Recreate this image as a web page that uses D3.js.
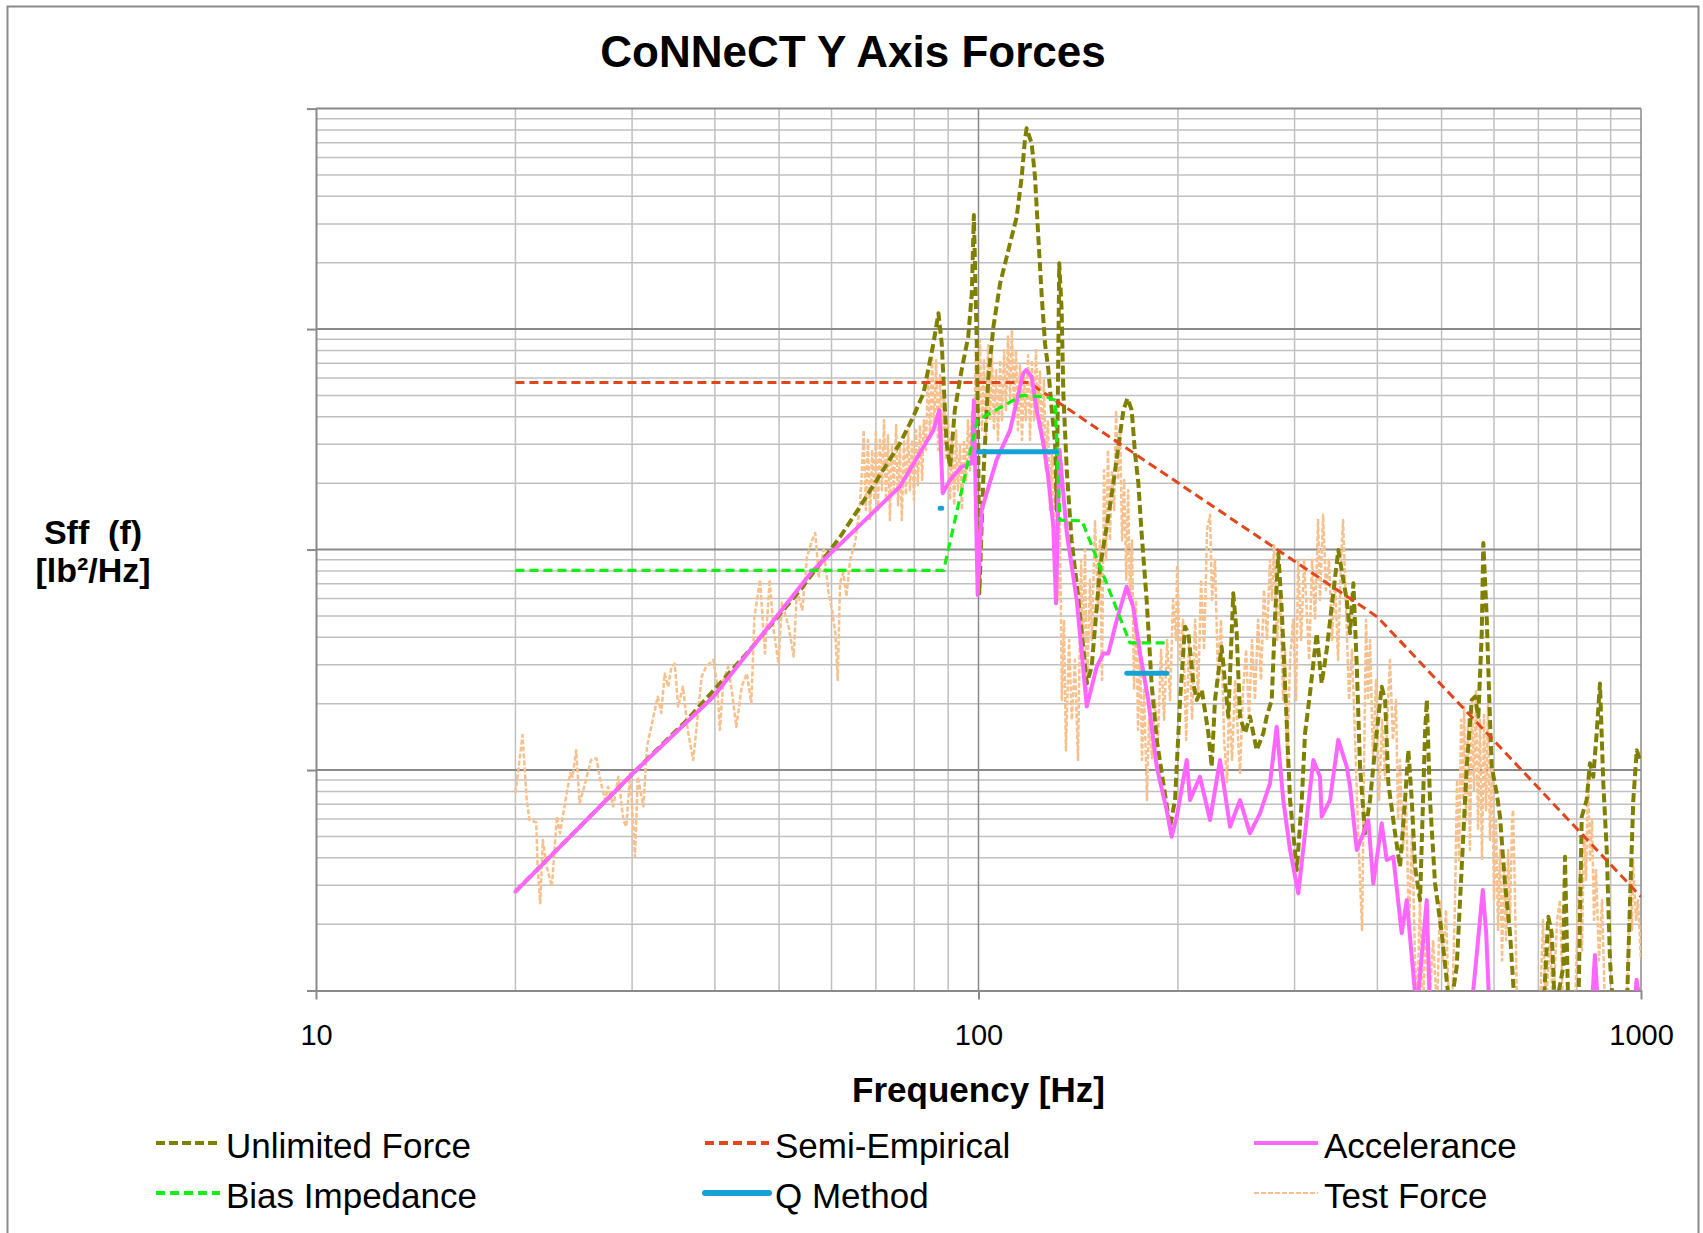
<!DOCTYPE html>
<html><head><meta charset="utf-8">
<script src="https://cdn.jsdelivr.net/npm/d3@7"></script>
<style>
body{margin:0;background:#fff}
svg{display:block}
text{font-family:"Liberation Sans", Arial, sans-serif}
</style>
</head><body>
<svg id="chart" width="1703" height="1233"></svg>
<script>
// ---------------- DATA (frequency Hz, Sff lb^2/Hz) ----------------
const xTickValues = [10, 100, 1000];
const xTickLabels = ["10", "100", "1000"];
const yTickValues = [0.01, 0.1, 1, 10, 100];

const seriesNames = ["Unlimited Force", "Semi-Empirical", "Accelerance", "Bias Impedance", "Q Method", "Test Force"];

const semiEmpirical = [[20,5.73],[119,5.73],[400,0.495],[1000,0.0266]];

const biasImpedance = [[20,0.805],[88.6,0.805],[99.6,3.86],[107.8,4.40],[116.2,5.0],[126.7,4.93],[130.5,4.76],[132.7,1.36],[143.3,1.35],[169.3,0.377],[193,0.377]];

const qMethod = [[87.5,1.54],[88.0,1.54],[94,null],[100,2.78],[131.2,2.78],[150,null],[167.4,0.275],[192.3,0.275]];

const unlimitedForce = [[20,0.0281],[25.6,0.0593],[30.1,0.0967],[36.3,0.1685],[44.7,0.338],[53.8,0.655],[61.8,1.14],[66.2,1.56],[76.1,3.03],[79.7,4.00],[82.6,5.11],[85.5,8.61],[87.0,11.8],[88.0,8.61],[88.5,6.08],[89.5,3.03],[90.6,2.37],[92.1,4.29],[94.3,6.52],[96.5,9.23],[97.7,14.5],[98.4,32.9],[99.4,8.61],[99.9,3.03],[100.3,0.633],[101.7,2.14],[103.5,6.08],[105.3,10.2],[107.8,16.1],[111.6,24.5],[114.2,32.3],[116.2,49.0],[117.5,71.9],[118.2,81.4],[120.3,69.5],[121.7,49.0],[123.1,26.2],[124.6,14.0],[126.0,8.61],[127.5,6.52],[129.0,4.29],[130.5,3.03],[131.2,1.51],[132.4,19.9],[133.5,12.2],[134.3,5.11],[135.9,2.29],[138.2,1.10],[140.7,0.703],[143.2,0.417],[145.7,0.247],[148.2,0.294],[152.6,0.835],[157.0,1.41],[159.8,2.00],[163.6,3.36],[165.5,4.29],[167.8,4.85],[170.3,4.29],[172.3,2.73],[174.3,2.00],[176.3,1.18],[179.4,0.590],[182.5,0.247],[185.8,0.137],[190.1,0.0870],[194.6,0.0553],[198.0,0.0731],[201.5,0.208],[205.0,0.447],[207.4,0.417],[211.0,0.247],[213.5,0.208],[217.3,0.231],[222.3,0.147],[224.9,0.1035],[227.5,0.208],[232.8,0.362],[238.3,0.1745],[242.4,0.633],[245.3,0.417],[248.2,0.1745],[252.5,0.147],[256.9,0.1745],[263.0,0.123],[269.1,0.147],[272.3,0.1745],[277.1,0.208],[280.3,0.496],[283.5,0.961],[286.9,0.532],[290.2,0.247],[295.3,0.0731],[302.3,0.0352],[307.6,0.0731],[311.1,0.147],[316.5,0.223],[324.0,0.417],[329.6,0.247],[335.4,0.350],[343.1,0.633],[349.2,0.995],[359.6,0.590],[363.8,0.417],[368.0,0.703],[372.4,0.294],[376.6,0.1035],[383.2,0.0516],[389.9,0.0731],[399.0,0.147],[406.1,0.2385],[410.9,0.208],[415.6,0.0870],[425.4,0.0516],[432.8,0.0364],[440.4,0.0731],[445.5,0.123],[450.8,0.0731],[456.0,0.0364],[464.0,0.0257],[472.1,0.147],[475.0,0.208],[480.3,0.0731],[488.8,0.0306],[500.3,0.0182],[514.9,0.008],[527.0,0.0128],[536.3,0.0364],[545.7,0.1035],[555.3,0.208],[561.7,0.215],[568.2,0.1745],[574.9,0.417],[578.1,1.07],[584.9,0.496],[590.2,0.208],[595.2,0.1035],[605.6,0.0784],[612.6,0.0614],[623.3,0.0306],[634.3,0.0182],[645.4,0.008],[712.2,0.008],[724.6,0.0216],[733.2,0.0182],[741.7,0.008],[763.3,0.0128],[767.9,0.0404],[776.8,0.008],[804.3,0.008],[813.8,0.0614],[827.9,0.0731],[837.5,0.1073],[847.2,0.0932],[857.2,0.147],[867.1,0.247],[877.2,0.0870],[887.7,0.0434],[897.8,0.0137],[908.2,0.008],[951.7,0.008],[962.6,0.0257],[973.6,0.0731],[985.4,0.123],[996.6,0.111],[1000,0.111]];

const accelerance = [[20,0.0281],[30.1,0.0967],[39.8,0.215],[56.3,0.807],[76.1,1.93],[85.5,3.48],[87.3,4.29],[88.3,1.80],[90.6,2.07],[94.3,2.37],[97.7,2.46],[98.4,4.76],[99.7,0.622],[101.1,1.51],[106.5,2.55],[111.6,3.48],[116.8,6.30],[118,6.52],[120.3,6.08],[122.4,4.29],[125.3,3.03],[127.4,2.14],[129.7,1.27],[130.9,0.570],[132.5,2.83],[135.9,1.19],[140.7,0.590],[145.7,0.194],[150.8,0.294],[154.3,0.338],[157.0,0.338],[161.7,0.479],[167.3,0.678],[171.2,0.550],[175.3,0.338],[180.4,0.208],[185.8,0.1035],[192.3,0.0658],[195.7,0.0498],[199.2,0.0614],[206.2,0.111],[208.6,0.0731],[215.9,0.0932],[223.6,0.0593],[231.5,0.111],[239.7,0.0553],[248.2,0.0731],[256.9,0.0516],[266.0,0.0636],[275.4,0.0870],[281.9,0.157],[288.4,0.0731],[295.3,0.0434],[303.9,0.0276],[311.1,0.0516],[320.2,0.111],[327.7,0.0932],[329.6,0.0614],[339.3,0.0731],[349.2,0.137],[359.6,0.1035],[363.8,0.0840],[372.4,0.0434],[380.9,0.0516],[387.6,0.0593],[394.4,0.0306],[406.1,0.0573],[413.2,0.0391],[422.8,0.0404],[435.3,0.0182],[443.0,0.0257],[458.6,0.008],[474.9,0.0257],[480.3,0.008],[554.2,0.008],[563.9,0.0137],[577.0,0.0286],[583.9,0.0182],[590.6,0.008],[842,0.008],[852,0.0145],[862,0.008],[975,0.008],[985,0.0112],[1000,0.008]];

const testForce = [[20.0,0.0784],[20.5,0.144],[20.8,0.0731],[21.0,0.0593],[21.5,0.058],[21.6,0.0364],[21.8,0.0249],[22.0,0.0481],[22.3,0.0364],[22.7,0.0296],[23.1,0.0614],[23.35,0.0516],[23.8,0.0731],[24.2,0.0967],[24.4,0.0932],[24.7,0.123],[25.0,0.0707],[25.4,0.084],[26.0,0.111],[26.5,0.113],[26.8,0.0932],[27.3,0.0731],[27.6,0.084],[28.1,0.0684],[28.6,0.0932],[29.1,0.0593],[29.4,0.0553],[29.8,0.0967],[30.3,0.0404],[30.6,0.0932],[31.2,0.0684],[31.6,0.128],[32.3,0.1745],[32.8,0.215],[33.2,0.1815],[33.6,0.274],[34.0,0.239],[34.4,0.294],[34.8,0.304],[35.2,0.194],[35.8,0.239],[36.4,0.152],[37.1,0.111],[37.5,0.152],[38.2,0.265],[38.8,0.294],[39.8,0.316],[40.3,0.248],[40.7,0.152],[41.2,0.256],[41.9,0.294],[42.4,0.231],[43.1,0.157],[43.9,0.239],[44.7,0.274],[45.4,0.201],[45.9,0.497],[46.8,0.729],[47.6,0.338],[48.4,0.729],[49.0,0.445],[49.9,0.304],[50.5,0.574],[51.7,0.445],[52.6,0.327],[53.2,0.656],[54.2,0.533],[55.1,0.929],[56.1,1.104],[56.7,1.19],[57.4,0.755],[58.4,0.997],[59.4,0.633],[60.1,0.533],[60.8,0.417],[61.3,0.256],[61.8,0.703],[62.5,0.785],[63.2,0.613],[64.0,0.898],[65.1,1.07],[66.2,1.56],
[66.7,2.29],[67.1,3.48],[67.6,1.51],[68.1,3.14],[68.6,1.36],[69.1,2.83],[69.6,1.68],[70.0,3.48],[70.5,1.51],[71.0,3.14],[71.5,1.86],[72.0,3.86],[72.5,1.68],[73.0,3.3],[73.5,1.36],[74.0,2.98],[74.5,1.86],[75.1,3.67],[75.6,1.59],[76.1,2.98],[76.6,1.36],[77.2,3.14],[77.7,1.77],[78.3,3.48],[78.8,1.86],[79.4,3.14],[79.9,1.68],[80.5,3.48],[81.0,1.96],[81.6,3.67],[82.2,2.07],[82.7,3.86],[83.3,2.83],[83.9,6.51],[84.5,3.14],[85.1,7.6],[85.7,3.48],[86.3,7.23],[86.9,2.83],[87.5,6.18],[88.1,2.98],[88.7,5.29],[89.3,2.55],[90.0,3.86],[90.6,1.68],[91.2,3.14],[91.9,1.59],[92.5,3.48],[93.1,1.86],[93.8,2.98],[94.4,1.51],[95.1,3.14],[95.8,2.07],[96.4,3.86],[97.1,2.29],[97.8,4.29],[98.5,3.14],[99.1,8.02],[99.8,3.86],[100.5,8.91],[101.2,3.48],[101.9,7.23],[102.6,3.14],[103.4,8.45],[104.1,3.86],[104.8,7.6],[105.5,3.48],[106.3,6.51],[107.0,3.14],[107.8,7.23],[108.5,3.86],[109.3,8.02],[110.0,4.29],[110.8,9.36],[111.6,4.76],[112.3,9.89],[113.1,4.29],[113.9,8.02],[114.7,3.48],[115.5,6.86],[116.3,3.14],[117.1,6.18],[117.9,3.86],[118.8,7.6],[119.6,3.14],[120.4,7.23],[121.3,3.86],[122.1,8.02],[123.0,4.29],[123.8,6.51],[124.7,2.98],[125.5,5.87],[126.4,2.29],[127.3,3.86],[128.2,1.51],[129.1,2.83],[130.0,0.898],[130.9,2.07],[131.8,0.591],[132.7,1.36],
[133.6,0.208],[134.6,0.480],[135.5,0.123],[137.0,0.389],[138.3,0.169],[139.8,0.316],[141.3,0.111],[142.8,0.898],[143.8,0.351],[144.8,0.997],[145.8,0.208],[147.3,0.729],[148.3,0.389],[149.9,1.36],[151.5,0.533],[152.5,1.10],[153.6,0.256],[154.7,2.29],[155.8,0.898],[156.8,2.83],[157.9,1.10],[159.0,2.29],[160.2,1.51],[161.3,4.29],[162.4,2.07],[163.6,3.48],[164.7,1.10],[165.9,2.07],[167.1,0.729],[168.2,1.86],[169.3,0.591],[170.5,1.10],[171.7,0.231],[172.9,0.591],[174.1,0.152],[175.3,0.389],[176.5,0.111],[177.8,0.231],[179.6,0.0731],[180.9,0.169],[182.8,0.113],[184.7,0.208],[186.6,0.137],[188.6,0.351],[190.6,0.169],[192.6,0.389],[194.6,0.208],[196.6,0.591],[198.7,0.389],[199.4,0.85],[201.5,0.316],[203.6,0.480],[205.8,0.137],[207.9,0.389],[210.1,0.169],[212.3,0.480],[214.5,0.208],[216.7,0.729],[219.0,0.351],[221.3,1.23],[223.6,1.44],[225.2,0.591],[227.5,0.898],[229.9,0.256],[232.3,0.480],[234.8,0.137],[237.3,0.088],[238.9,0.208],[241.4,0.111],[244.0,0.256],[246.5,0.137],[248.2,0.097],[250.8,0.231],[253.5,0.351],[256.0,0.169],[258.7,0.389],[261.4,0.208],[264.2,0.480],[266.9,0.256],[269.7,0.656],[272.6,0.389],[275.4,0.898],[277.4,0.591],[279.3,1.05],[282.3,0.389],[285.2,0.656],[288.2,0.208],[290.2,0.351],[292.3,0.104],[295.3,0.316],[298.4,0.480],[301.6,0.208],[303.7,0.898],[306.9,0.389],[310.1,0.898],[312.3,0.591],[315.5,0.316],[318.8,0.898],[322.1,0.480],[325.5,1.36],[327.7,0.591],[331.2,1.44],[334.6,0.656],[338.1,0.898],[341.7,0.389],[345.3,0.729],[348.9,0.316],[352.6,0.898],[355.0,1.36],[358.8,0.533],[362.5,0.208],[366.3,0.351],[370.2,0.137],[374.1,0.0535],[376.6,0.0317],[379.3,0.0188],[382.0,0.111],[384.6,0.480],[387.3,0.208],[389.9,0.389],[394.0,0.111],[398.2,0.256],[402.4,0.0731],[406.6,0.169],[410.9,0.0901],[415.2,0.208],[417.9,0.316],[422.3,0.137],[426.8,0.208],[429.8,0.0593],
[432.7,0.111],[437.3,0.0434],[441.9,0.0731],[446.5,0.0188],[451.2,0.0535],[456.0,0.0137],[459.2,0.008],[463.8,0.0257],[468.7,0.008],[473.7,0.0209],[478.6,0.008],[485.4,0.0169],[492.2,0.008],[497.2,0.0257],[502.5,0.0137],[507.8,0.0232],[513.1,0.008],[518.5,0.008],
[524.0,0.0257],[527.6,0.0901],[531.3,0.0391],[535.1,0.169],[538.8,0.0731],[540.7,0.194],[544.5,0.0593],[548.3,0.169],[551.9,0.0434],[555.8,0.208],[559.7,0.0811],[563.6,0.231],[567.6,0.0535],[571.4,0.169],[575.4,0.0391],[579.5,0.178],[583.5,0.0658],[587.6,0.198],[591.6,0.0481],[595.8,0.111],[600.0,0.0257],[604.2,0.0593],[608.4,0.0188],[612.6,0.0434],[617.0,0.0137],[621.3,0.0352],[625.6,0.0169],[630.0,0.0434],[634.3,0.0209],[638.8,0.0593],[641.0,0.0658],[645.5,0.0257],[650.0,0.008],
[703.9,0.008],[711.3,0.0209],[718.7,0.008],[728.8,0.0182],[736.5,0.008],[746.9,0.0209],[754.6,0.0257],[762.6,0.008],[795.0,0.008],[803.3,0.0257],[808.9,0.0352],[814.6,0.0152],[820.3,0.0516],[826.1,0.0317],[831.9,0.097],[837.5,0.0391],[843.4,0.0593],[849.3,0.0209],[855.3,0.0352],[864.2,0.0137],[873.3,0.0257],[882.5,0.008],[951.6,0.008],[962.5,0.0317],[969.2,0.0188],[972.6,0.0391],[982.9,0.0209],[989.8,0.0257],[1000,0.0137]];

// ---------------- CHART ----------------
const plot = {left: 316, right: 1641, top: 108.6, bottom: 990.5};
const svg = d3.select("#chart");

const x = d3.scaleLog().domain([10, 1000]).range([plot.left, plot.right]);
const y = d3.scaleLog().domain([0.01, 100]).range([plot.bottom, plot.top]);

// outer border
svg.append("rect").attr("x", 7.5).attr("y", 6.5).attr("width", 1691).attr("height", 1300)
  .attr("fill", "#fff").attr("stroke", "#8a8a8a").attr("stroke-width", 2);

// grid
const minorX = [], majorX = [];
[10, 100].forEach(d => { for (let k = 2; k <= 9; k++) minorX.push(d * k); });
majorX.push(100, 1000);
const minorY = [], majorY = [];
[0.01, 0.1, 1, 10].forEach(d => { for (let k = 2; k <= 9; k++) minorY.push(d * k); });
majorY.push(0.1, 1, 10, 100);

const grid = svg.append("g");
grid.selectAll(".mx").data(minorX).join("line")
  .attr("x1", d => x(d)).attr("x2", d => x(d)).attr("y1", plot.top).attr("y2", plot.bottom)
  .attr("stroke", "#c0c0c0").attr("stroke-width", 1.5);
grid.selectAll(".my").data(minorY).join("line")
  .attr("y1", d => y(d)).attr("y2", d => y(d)).attr("x1", plot.left).attr("x2", plot.right)
  .attr("stroke", "#c0c0c0").attr("stroke-width", 1.5);
grid.selectAll(".Mx").data(majorX).join("line")
  .attr("x1", d => x(d)).attr("x2", d => x(d)).attr("y1", plot.top).attr("y2", plot.bottom)
  .attr("stroke", "#8a8a8a").attr("stroke-width", 1.5);
grid.selectAll(".My").data(majorY).join("line")
  .attr("y1", d => y(d)).attr("y2", d => y(d)).attr("x1", plot.left).attr("x2", plot.right)
  .attr("stroke", "#8a8a8a").attr("stroke-width", 2);

// axes
const xAxis = d3.axisBottom(x).tickValues(xTickValues).tickFormat((d, i) => xTickLabels[i])
  .tickSize(9).tickSizeOuter(0).tickPadding(25);
const gx = svg.append("g").attr("transform", `translate(0,${plot.bottom})`).call(xAxis);
const yAxis = d3.axisLeft(y).tickValues(yTickValues).tickFormat("").tickSize(9).tickSizeOuter(0);
const gy = svg.append("g").attr("transform", `translate(${plot.left},0)`).call(yAxis);
[gx, gy].forEach(g => {
  g.select(".domain").attr("stroke", "#8a8a8a").attr("stroke-width", 2);
  g.selectAll(".tick line").attr("stroke", "#8a8a8a").attr("stroke-width", 2);
  g.selectAll(".tick text").attr("fill", "#000").style("font-size", "29px")
    .style("font-family", '"Liberation Sans", Arial, sans-serif');
});

// clip
svg.append("clipPath").attr("id", "clip").append("rect")
  .attr("x", plot.left).attr("y", plot.top).attr("width", plot.right - plot.left).attr("height", plot.bottom - plot.top);

const styles = {
  "Unlimited Force": {data: unlimitedForce, color: "#808000", width: 4, dash: "9,4", cap: "butt"},
  "Semi-Empirical": {data: semiEmpirical, color: "#E2461C", width: 3, dash: "9,5", cap: "butt"},
  "Accelerance": {data: accelerance, color: "#FF66FF", width: 4, dash: null, cap: "round"},
  "Bias Impedance": {data: biasImpedance, color: "#11F011", width: 3.2, dash: "9,5", cap: "butt"},
  "Q Method": {data: qMethod, color: "#17A2D6", width: 5, dash: null, cap: "round"},
  "Test Force": {data: testForce, color: "#F8C08C", width: 2.5, dash: "5,2", cap: "butt"}
};

const line = d3.line().defined(d => d[1] != null).x(d => x(d[0])).y(d => y(d[1]));
const drawOrder = ["Test Force", "Unlimited Force", "Semi-Empirical", "Accelerance", "Bias Impedance", "Q Method"];
const series = svg.append("g").attr("clip-path", "url(#clip)");
drawOrder.forEach(name => {
  const s = styles[name];
  series.append("path").datum(s.data).attr("d", line)
    .attr("fill", "none").attr("stroke", s.color).attr("stroke-width", s.width)
    .attr("stroke-dasharray", s.dash).attr("stroke-linecap", s.cap).attr("stroke-linejoin", "round");
});

// titles
svg.append("text").attr("x", 853).attr("y", 67).attr("text-anchor", "middle")
  .style("font-size", "44px").style("font-weight", "bold").text("CoNNeCT Y Axis Forces");
svg.append("text").attr("x", (plot.left + plot.right) / 2).attr("y", 1102).attr("text-anchor", "middle")
  .style("font-size", "35px").style("font-weight", "bold").text("Frequency [Hz]");
svg.append("text").attr("x", 93).attr("y", 544).attr("text-anchor", "middle")
  .style("font-size", "34px").style("font-weight", "bold").style("white-space", "pre").text("Sff  (f)");
svg.append("text").attr("x", 93).attr("y", 582).attr("text-anchor", "middle")
  .style("font-size", "34px").style("font-weight", "bold").text("[lb²/Hz]");

// legend
const legendCols = [156, 705, 1254];
const legendRows = [1143, 1193];
const legend = svg.append("g");
seriesNames.forEach((name, i) => {
  const s = styles[name];
  const cx = legendCols[i % 3], cy = legendRows[Math.floor(i / 3)];
  legend.append("line").attr("x1", cx).attr("x2", cx + 64).attr("y1", cy).attr("y2", cy)
    .attr("stroke", s.color).attr("stroke-width", name === "Q Method" ? 6 : (name === "Test Force" ? 2 : 4))
    .attr("stroke-dasharray", s.dash).attr("stroke-linecap", name === "Q Method" ? "round" : "butt");
  legend.append("text").attr("x", cx + 70).attr("y", cy + 15)
    .style("font-size", "35px").text(name);
});
</script>
</body></html>
